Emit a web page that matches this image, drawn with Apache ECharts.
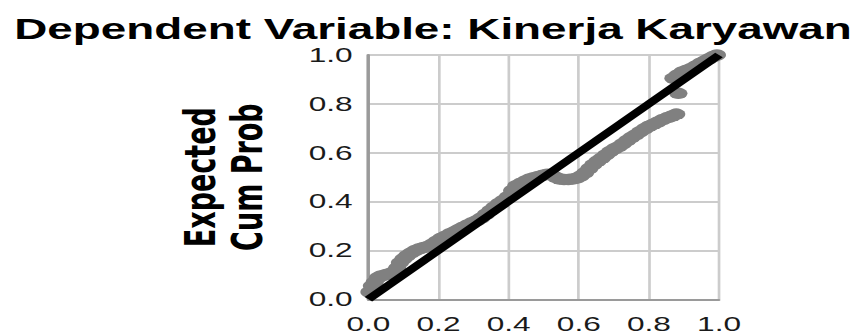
<!DOCTYPE html>
<html>
<head>
<meta charset="utf-8">
<script src="https://cdn.jsdelivr.net/npm/echarts@6/dist/echarts.min.js"></script>
<style>
  html, body { margin: 0; padding: 0; background: #fff; overflow: hidden; }
  #chart { width: 548px; height: 335px; transform: scaleX(1.58029); transform-origin: 0 0; }
</style>
</head>
<body>
<div id="chart"></div>
<script>
// ---- data ----
const chartTitle = 'Dependent Variable: Kinerja Karyawan';
const yAxisTitle = 'Expected\nCum Prob';
const tickLabels = ['0.0', '0.2', '0.4', '0.6', '0.8', '1.0'];
const tickValues = [0, 0.2, 0.4, 0.6, 0.8, 1.0];

// observed cumulative probability (x)
const observedCumProb = [
  0.003, 0.010, 0.018, 0.027, 0.036, 0.048, 0.060, 0.072, 0.082, 0.090,
  0.100, 0.110, 0.122, 0.134, 0.146, 0.158, 0.170, 0.182, 0.195, 0.208,
  0.220, 0.233, 0.246, 0.258, 0.270, 0.283, 0.296, 0.309, 0.322, 0.335,
  0.348, 0.360, 0.372, 0.385, 0.398, 0.410, 0.422, 0.435, 0.448, 0.460,
  0.472, 0.485, 0.498, 0.510, 0.522, 0.534, 0.546, 0.558, 0.570, 0.582,
  0.594, 0.606, 0.618, 0.630, 0.642, 0.654, 0.666, 0.678, 0.690, 0.702,
  0.714, 0.726, 0.738, 0.750, 0.762, 0.775, 0.788, 0.800, 0.813, 0.826,
  0.840, 0.854, 0.866, 0.878, 0.884, 0.870, 0.882, 0.895, 0.908, 0.921,
  0.934, 0.947, 0.960, 0.972, 0.984, 0.994
];
// expected cumulative probability (y)
const expectedCumProb = [
  0.030, 0.055, 0.070, 0.088, 0.095, 0.100, 0.105, 0.112, 0.128, 0.150,
  0.165, 0.178, 0.190, 0.200, 0.207, 0.212, 0.216, 0.225, 0.238, 0.250,
  0.258, 0.268, 0.277, 0.286, 0.295, 0.304, 0.313, 0.322, 0.333, 0.348,
  0.364, 0.378, 0.392, 0.405, 0.420, 0.445, 0.465, 0.475, 0.484, 0.492,
  0.498, 0.503, 0.508, 0.512, 0.510, 0.500, 0.492, 0.490, 0.490, 0.492,
  0.496, 0.505, 0.518, 0.535, 0.552, 0.566, 0.578, 0.592, 0.605, 0.616,
  0.625, 0.637, 0.650, 0.662, 0.673, 0.686, 0.698, 0.708, 0.717, 0.726,
  0.736, 0.744, 0.750, 0.758, 0.843, 0.905, 0.918, 0.930, 0.938, 0.945,
  0.955, 0.966, 0.976, 0.985, 0.994, 1.000
];
// diagonal reference line end points
const refLineX = [0, 1];
const refLineY = [0, 1];

// ---- chart ----
const points = observedCumProb.map((v, i) => [v, expectedCumProb[i]]);
const refLine = refLineX.map((v, i) => [v, refLineY[i]]);
const fmt = v => { const i = tickValues.findIndex(t => Math.abs(t - v) < 1e-6); return i >= 0 ? tickLabels[i] : ''; };

const chart = echarts.init(document.getElementById('chart'), null, { renderer: 'svg', width: 548, height: 335 });
chart.setOption({
  animation: false,
  backgroundColor: '#ffffff',
  title: {
    text: chartTitle,
    left: 'center',
    top: 9,
    textStyle: { fontFamily: 'Liberation Sans, Arial, sans-serif', fontWeight: 'bold', fontSize: 29, color: '#000' }
  },
  grid: { left: 233.1, right: 93, top: 55, bottom: 35.7, containLabel: false },
  xAxis: {
    type: 'value', min: 0, max: 1, interval: 0.2,
    axisLine: { show: true, lineStyle: { color: '#9a9a9a', width: 1.8 } },
    axisTick: { show: false },
    axisLabel: { formatter: fmt, margin: 15, fontFamily: 'Liberation Sans, Arial, sans-serif', fontSize: 20, color: '#1a1a1a' },
    splitLine: { show: true, lineStyle: { color: '#cccccc', width: 1.7 } }
  },
  yAxis: {
    type: 'value', min: 0, max: 1, interval: 0.2,
    name: yAxisTitle,
    nameLocation: 'middle',
    nameRotate: 90,
    nameGap: 62,
    nameTextStyle: { fontFamily: 'DejaVu Sans, sans-serif', fontWeight: 'bold', fontSize: 27, lineHeight: 29.5, color: '#000' },
    axisLine: { show: true, lineStyle: { color: '#9a9a9a', width: 2.2 } },
    axisTick: { show: false },
    axisLabel: { formatter: fmt, margin: 10, padding: [5, 0, 0, 0], fontFamily: 'Liberation Sans, Arial, sans-serif', fontSize: 20, color: '#1a1a1a' },
    splitLine: { show: true, lineStyle: { color: '#cccccc', width: 2 } }
  },
  series: [
    {
      type: 'scatter',
      data: points,
      symbol: 'circle',
      symbolSize: 11.5,
      itemStyle: { color: '#808080', opacity: 1 },
      z: 2
    },
    {
      type: 'line',
      data: refLine,
      showSymbol: false,
      symbol: 'none',
      lineStyle: { color: '#000', width: 6.5 },
      z: 3
    }
  ]
});
</script>
</body>
</html>
